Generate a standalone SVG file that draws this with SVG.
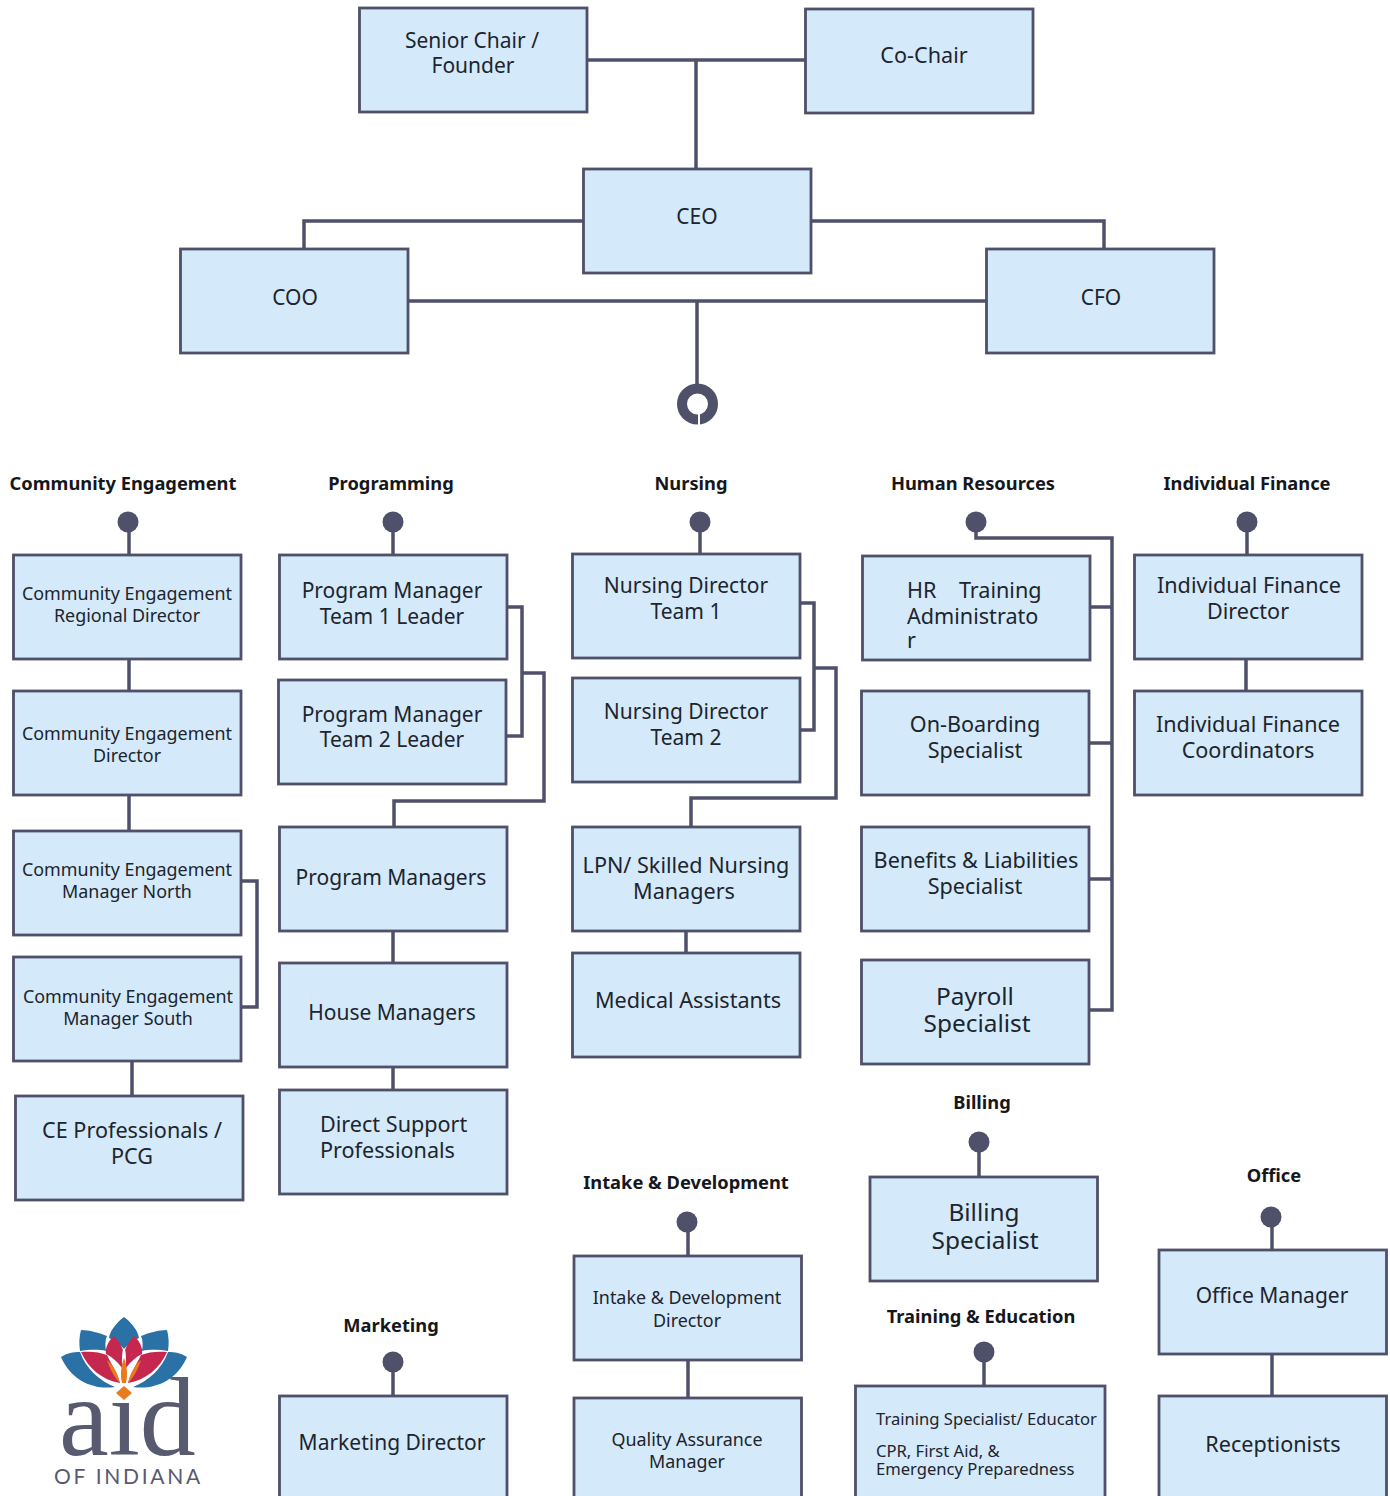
<svg xmlns="http://www.w3.org/2000/svg" width="1390" height="1496" viewBox="0 0 1390 1496">
<style>
.n{fill:#d4eafb;stroke:#4f5069;stroke-width:2.8}
.c{fill:none;stroke:#4f5069;stroke-width:3.5}
.t{font-family:"Noto Sans","Liberation Sans",sans-serif;fill:#20242c;text-anchor:middle;font-size:21px}
.m{font-size:21.600px}
.b{font-size:24.400px}
.s{font-size:17.900px}
.x{font-size:16.600px}
.l{text-anchor:start}
.h{font-family:"Noto Sans","Liberation Sans",sans-serif;font-weight:700;font-size:18.300px;fill:#15171c;text-anchor:middle}
.d{fill:#4f5069}
</style>
<rect width="1390" height="1496" fill="#fff"/>
<g id="connectors">
<path class="c" d="M587 60H805M696 60V169"/>
<path class="c" d="M583 221H304V249M811 221H1104V249"/>
<path class="c" d="M408 301H986M697 301V385"/>
<path class="c" d="M129 522V555M129 659V691M129 795V831M241 881H257V1007H241M132 1061V1096"/>
<path class="c" d="M393 522V555M507 607H522V736H506M522 673H544V801H394V827M393 931V963M393 1067V1090"/>
<path class="c" d="M700 522V554M800 603H814V730H800M814 668H836V798H691V827M686 931V953"/>
<path class="c" d="M976 522V538H1112V1010H1089M1090 607H1112M1089 743H1112M1089 879H1112"/>
<path class="c" d="M1247 522V555M1246 659V691"/>
<path class="c" d="M979 1142V1177M688 1222V1256M688 1360V1398M393 1362V1396M984 1352V1386M1272 1217V1250M1272 1354V1396"/>
<g class="d">
<circle cx="128" cy="522" r="10.500"/><circle cx="393" cy="522" r="10.500"/><circle cx="700" cy="522" r="10.500"/><circle cx="976" cy="522" r="10.500"/><circle cx="1247" cy="522" r="10.500"/><circle cx="979" cy="1142" r="10.500"/><circle cx="687" cy="1222" r="10.500"/><circle cx="393" cy="1362" r="10.500"/><circle cx="984" cy="1352" r="10.500"/><circle cx="1271" cy="1217" r="10.500"/>
</g>
<circle cx="697.500" cy="404" r="15.500" fill="none" stroke="#4f5069" stroke-width="10"/>
<rect x="698" y="410" width="2" height="15" fill="#fff"/>
</g>
<g id="headers">
<text class="h" x="123" y="490">Community Engagement</text>
<text class="h" x="391" y="490">Programming</text>
<text class="h" x="691" y="490">Nursing</text>
<text class="h" x="973" y="490">Human Resources</text>
<text class="h" x="1247" y="490">Individual Finance</text>
<text class="h" x="982" y="1109">Billing</text>
<text class="h" x="686" y="1189">Intake &amp; Development</text>
<text class="h" x="1274" y="1182">Office</text>
<text class="h" x="391" y="1332">Marketing</text>
<text class="h" x="981" y="1323">Training &amp; Education</text>
</g>
<g id="senior-chair"><rect class="n" x="359.500" y="8" width="227.500" height="104"/><text class="t" x="472" y="48">Senior Chair /</text><text class="t" x="473" y="73">Founder</text></g>
<g id="co-chair"><rect class="n" x="805.500" y="9" width="227.500" height="104"/><text class="t m" x="924" y="63">Co-Chair</text></g>
<g id="ceo"><rect class="n" x="583.500" y="169" width="227.500" height="104"/><text class="t" x="697" y="224">CEO</text></g>
<g id="coo"><rect class="n" x="180.500" y="249" width="227.500" height="104"/><text class="t" x="295" y="305">COO</text></g>
<g id="cfo"><rect class="n" x="986.500" y="249" width="227.500" height="104"/><text class="t" x="1101" y="305">CFO</text></g>
<g id="ce-regional"><rect class="n" x="13.500" y="555" width="227.500" height="104"/><text class="t s" x="127" y="600">Community Engagement</text><text class="t s" x="127" y="622">Regional Director</text></g>
<g id="ce-director"><rect class="n" x="13.500" y="691" width="227.500" height="104"/><text class="t s" x="127" y="740">Community Engagement</text><text class="t s" x="127" y="762">Director</text></g>
<g id="ce-north"><rect class="n" x="13.500" y="831" width="227.500" height="104"/><text class="t s" x="127" y="876">Community Engagement</text><text class="t s" x="127" y="898">Manager North</text></g>
<g id="ce-south"><rect class="n" x="13.500" y="957" width="227.500" height="104"/><text class="t s" x="128" y="1003">Community Engagement</text><text class="t s" x="128" y="1025">Manager South</text></g>
<g id="ce-pro"><rect class="n" x="15.500" y="1096" width="227.500" height="104"/><text class="t m" x="132" y="1138">CE Professionals /</text><text class="t m" x="132" y="1164">PCG</text></g>
<g id="pm1"><rect class="n" x="279.500" y="555" width="227.500" height="104"/><text class="t" x="392" y="598">Program Manager</text><text class="t" x="392" y="624">Team 1 Leader</text></g>
<g id="pm2"><rect class="n" x="278.500" y="680" width="227.500" height="104"/><text class="t" x="392" y="722">Program Manager</text><text class="t" x="392" y="747">Team 2 Leader</text></g>
<g id="pms"><rect class="n" x="279.500" y="827" width="227.500" height="104"/><text class="t" x="391" y="885">Program Managers</text></g>
<g id="house"><rect class="n" x="279.500" y="963" width="227.500" height="104"/><text class="t" x="392" y="1020">House Managers</text></g>
<g id="dsp"><rect class="n" x="279.500" y="1090" width="227.500" height="104"/><text class="t l m" x="320" y="1132">Direct Support</text><text class="t l m" x="320" y="1158">Professionals</text></g>
<g id="nd1"><rect class="n" x="572.500" y="554" width="227.500" height="104"/><text class="t" x="686" y="593">Nursing Director</text><text class="t" x="686" y="619">Team 1</text></g>
<g id="nd2"><rect class="n" x="572.500" y="678" width="227.500" height="104"/><text class="t" x="686" y="719">Nursing Director</text><text class="t" x="686" y="745">Team 2</text></g>
<g id="lpn"><rect class="n" x="572.500" y="827" width="227.500" height="104"/><text class="t m" x="686" y="873">LPN/ Skilled Nursing</text><text class="t m" x="684" y="899">Managers</text></g>
<g id="ma"><rect class="n" x="572.500" y="953" width="227.500" height="104"/><text class="t m" x="688" y="1008">Medical Assistants</text></g>
<g id="hr"><rect class="n" x="862.500" y="556" width="227.500" height="104"/><text class="t l m" x="907" y="598" xml:space="preserve">HR    Training</text><text class="t l m" x="907" y="624">Administrato</text><text class="t l m" x="907" y="648">r</text></g>
<g id="onboard"><rect class="n" x="861.500" y="691" width="227.500" height="104"/><text class="t m" x="975" y="732">On-Boarding</text><text class="t m" x="975" y="758">Specialist</text></g>
<g id="benefits"><rect class="n" x="861.500" y="827" width="227.500" height="104"/><text class="t m" x="976" y="868">Benefits &amp; Liabilities</text><text class="t m" x="975" y="894">Specialist</text></g>
<g id="payroll"><rect class="n" x="861.500" y="960" width="227.500" height="104"/><text class="t b" x="975" y="1005">Payroll</text><text class="t b" x="977" y="1032">Specialist</text></g>
<g id="if-director"><rect class="n" x="1134.500" y="555" width="227.500" height="104"/><text class="t m" x="1249" y="593">Individual Finance</text><text class="t m" x="1248" y="619">Director</text></g>
<g id="if-coord"><rect class="n" x="1134.500" y="691" width="227.500" height="104"/><text class="t m" x="1248" y="732">Individual Finance</text><text class="t m" x="1248" y="758">Coordinators</text></g>
<g id="billing"><rect class="n" x="870" y="1177" width="227.500" height="104"/><text class="t b" x="984" y="1221">Billing</text><text class="t b" x="985" y="1249">Specialist</text></g>
<g id="intake"><rect class="n" x="574" y="1256" width="227.500" height="104"/><text class="t s" x="687" y="1304">Intake &amp; Development</text><text class="t s" x="687" y="1327">Director</text></g>
<g id="qa"><rect class="n" x="574" y="1398" width="227.500" height="104"/><text class="t s" x="687" y="1446">Quality Assurance</text><text class="t s" x="687" y="1468">Manager</text></g>
<g id="marketing"><rect class="n" x="279.500" y="1396" width="227.500" height="104"/><text class="t" x="392" y="1450">Marketing Director</text></g>
<g id="training"><rect class="n" x="855.500" y="1386" width="249.500" height="114"/><text class="t x l" x="876" y="1425">Training Specialist/ Educator</text><text class="t x l" x="876" y="1457">CPR, First Aid, &amp;</text><text class="t x l" x="876" y="1475">Emergency Preparedness</text></g>
<g id="office"><rect class="n" x="1159" y="1250" width="227.500" height="104"/><text class="t" x="1272" y="1303">Office Manager</text></g>
<g id="reception"><rect class="n" x="1159" y="1396" width="227.500" height="104"/><text class="t m" x="1273" y="1452">Receptionists</text></g>
<g id="logo">
<text x="59" y="1455" style="font-family:'Liberation Serif',serif;font-size:112px;fill:#585a70">aid</text>
<text x="54" y="1484" style="font-family:Lato,sans-serif;font-size:21px;letter-spacing:2.700px;fill:#585a70">OF INDIANA</text>
<rect x="112" y="1374" width="24" height="20" fill="#fff"/>
<path fill="#2a72a5" d="M124 1317C116 1323 110 1331 109 1338C114 1340 120 1344 124 1349C128 1344 134 1340 139 1338C138 1331 132 1323 124 1317Z"/>
<path fill="#2a72a5" d="M81 1330C89 1330 100 1333 107 1336C105 1341 105 1345 106 1351C98 1349 87 1350 80 1351C79 1344 79 1337 81 1330Z"/>
<path fill="#2a72a5" d="M167 1330C159 1330 148 1333 141 1336C143 1341 143 1345 142 1351C150 1349 161 1350 168 1351C169 1344 169 1337 167 1330Z"/>
<path fill="#2a72a5" d="M61 1357C67 1353 73 1352 80 1352C86 1369 100 1381 115 1387C95 1390 72 1382 61 1357Z"/>
<path fill="#2a72a5" d="M187 1357C181 1353 175 1352 168 1352C162 1369 148 1381 133 1387C153 1390 176 1382 187 1357Z"/>
<path fill="#c5274f" d="M81 1352C90 1351 100 1352 107 1355C110 1362 115 1368 120 1383C102 1380 88 1368 81 1352Z"/>
<path fill="#c5274f" d="M167 1352C158 1351 148 1352 141 1355C138 1362 133 1368 128 1383C146 1380 160 1368 167 1352Z"/>
<path fill="#c5274f" d="M114 1336C107 1342 105 1350 106 1354C112 1357 118 1362 122 1368C122 1358 122 1352 123 1350C121 1345 118 1340 114 1336Z"/>
<path fill="#c5274f" d="M134 1336C141 1342 143 1350 142 1354C136 1357 130 1362 126 1368C126 1358 126 1352 125 1350C127 1345 130 1340 134 1336Z"/>
<path fill="#ea7a1e" d="M124 1358C121 1366 120 1374 122 1383H126C128 1374 127 1366 124 1358ZM107 1360C110 1369 114 1377 120 1383C118 1374 114 1366 107 1360ZM141 1360C138 1369 134 1377 128 1383C130 1374 134 1366 141 1360ZM124 1386L132 1393L124 1400L116 1393Z"/>
</g>
</svg>
